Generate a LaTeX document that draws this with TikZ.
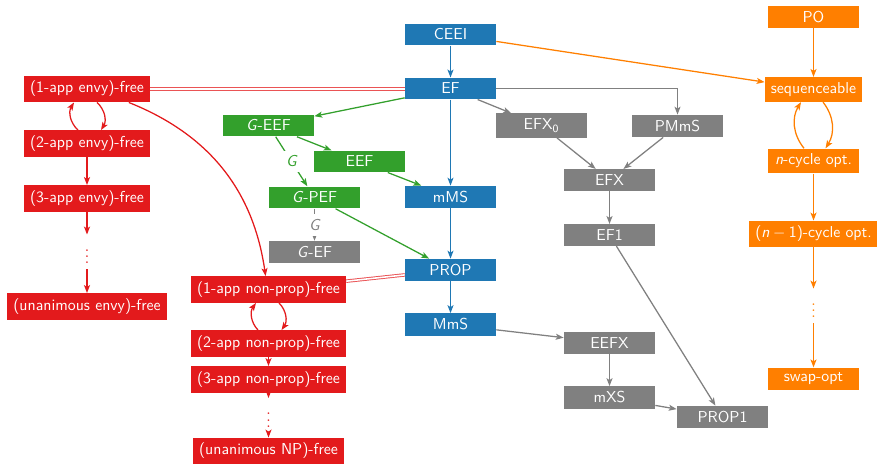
\documentclass[tikz,border=0pt]{standalone}
\usetikzlibrary{arrows.meta}
\definecolor{cblue}{HTML}{1F78B4}
\definecolor{cgreen}{HTML}{33A02C}
\definecolor{cred}{HTML}{E31A1C}
\definecolor{corange}{HTML}{FF7F00}
\definecolor{cgray}{HTML}{808080}
\begin{document}
\begin{tikzpicture}[x=0.6329pt, y=-0.6329pt,
  box/.style={rectangle, minimum width=57.6pt, inner xsep=3.8pt, inner ysep=3.33pt,
              text=white, font=\sffamily},
  bluebox/.style={box, fill=cblue},
  greenbox/.style={box, fill=cgreen},
  redbox/.style={box, fill=cred},
  orangebox/.style={box, fill=corange},
  graybox/.style={box, fill=cgray},
  dotsnode/.style={inner sep=3.33pt},
  arr/.style={thick, -{Stealth[length=5pt, width=3.8pt, inset=1.2pt]}},
  dbl/.style={draw=cred!75, line width=0.6pt, double=white, double distance=1pt},
  elabel/.style={fill=white, inner sep=3.33pt, font=\sffamily\slshape}]
\useasboundingbox (0,0) rectangle (877,463);

% central (blue) chain
\node[bluebox] (CEEI) at (450.5,34.5) {CEEI};
\node[bluebox] (EF)   at (450.5,88.5) {EF};
\node[bluebox] (mMS)  at (450.5,197)  {mMS};
\node[bluebox] (PROP) at (450.5,270)  {PROP};
\node[bluebox] (MmS)  at (450.5,324.5) {MmS};

% group fairness (green)
\node[greenbox] (GEEF) at (268.5,125.5) {\textsl{G}-EEF};
\node[greenbox] (EEF)  at (359.5,161.5) {EEF};
\node[greenbox] (GPEF) at (314.5,197.5) {\textsl{G}-PEF};
\node[graybox]  (GEF)  at (314.5,252)   {\textsl{G}-EF};

% relaxations (gray)
\node[graybox] (EFX0)  at (541.5,125.5) {EFX\textsubscript{0}};
\node[graybox] (PMmS)  at (677.5,126)   {PMmS};
\node[graybox] (EFX)   at (609.5,180)   {EFX};
\node[graybox] (EF1)   at (609.5,235)   {EF1};
\node[graybox] (EEFX)  at (609.5,343)   {EEFX};
\node[graybox] (mXS)   at (609.5,397.5) {mXS};
\node[graybox] (PROP1) at (722.5,417)   {PROP1};

% envy hierarchy (red, left)
\node[redbox] (r1) at (87,89)    {(1-app envy)-free};
\node[redbox] (r2) at (87,143.5) {(2-app envy)-free};
\node[redbox] (r3) at (87,198.5) {(3-app envy)-free};
\node[dotsnode, text=cred] (rdots) at (87,252) {$\vdots$};
\node[redbox] (r4) at (87,306.5) {(unanimous envy)-free};

% non-prop hierarchy (red, middle)
\node[redbox] (n1) at (268.5,289.5) {(1-app non-prop)-free};
\node[redbox] (n2) at (268.5,343.5) {(2-app non-prop)-free};
\node[redbox] (n3) at (268.5,379.5) {(3-app non-prop)-free};
\node[dotsnode, text=cred] (ndots) at (268.5,415.5) {$\vdots$};
\node[redbox] (n4) at (268.5,451) {(unanimous NP)-free};

% efficiency chain (orange)
\node[orangebox] (PO)   at (813.5,17)   {PO};
\node[orangebox] (seq)  at (813.5,89.5) {sequenceable};
\node[orangebox] (ncyc) at (813.5,161)  {\textsl{n}-cycle opt.};
\node[orangebox] (mcyc) at (813.5,234)  {(\textsl{n}${}-{}$1)-cycle opt.};
\node[dotsnode, text=corange] (odots) at (813.5,306) {$\vdots$};
\node[orangebox] (swap) at (813.5,379)  {swap-opt};

% blue implications
\draw[arr, cblue] (CEEI) -- (EF);
\draw[arr, cblue] (EF) -- (mMS);
\draw[arr, cblue] (mMS) -- (PROP);
\draw[arr, cblue] (PROP) -- (MmS);

% green implications
\draw[arr, cgreen] (EF) -- (GEEF);
\draw[arr, cgreen] (GEEF) -- (EEF);
\draw[arr, cgreen] (GEEF) -- node[elabel, text=cgreen] {G} (GPEF);
\draw[arr, cgreen] (EEF) -- (mMS);
\draw[arr, cgreen] (GPEF) -- (PROP);
\draw[arr, cgray] (GPEF) -- node[elabel, text=cgray] {G} (GEF);

% gray implications
\draw[arr, cgray] (EF) -- (EFX0);
\draw[arr, cgray] (EF) -| (PMmS);
\draw[arr, cgray] (EFX0) -- (EFX);
\draw[arr, cgray] (PMmS) -- (EFX);
\draw[arr, cgray] (EFX) -- (EF1);
\draw[arr, cgray] (EF1) -- (PROP1);
\draw[arr, cgray] (MmS) -- (EEFX);
\draw[arr, cgray] (EEFX) -- (mXS);
\draw[arr, cgray] (mXS) -- (PROP1);

% equivalences
\draw[dbl] (r1.east) -- (r1.east -| EF.west);
\draw[dbl] (n1) -- (PROP);

% red implications
\draw[arr, cred] ([shift={(-9,0)}]r2.north) to[bend left=40] ([shift={(-13,0)}]r1.south);
\draw[arr, cred] ([shift={(10,0)}]r1.south) to[bend left=40] ([shift={(14,0)}]r2.north);
\draw[arr, cred] (r2) -- (r3);
\draw[arr, cred] (r3) -- (rdots);
\draw[arr, cred] (rdots) -- (r4);
\draw[arr, cred] (r1) to[bend left=30] (n1);
\draw[arr, cred] ([shift={(-10.5,0)}]n2.north) to[bend left=40] ([shift={(-12.5,0)}]n1.south);
\draw[arr, cred] ([shift={(10.5,0)}]n1.south) to[bend left=40] ([shift={(13,0)}]n2.north);
\draw[arr, cred] (n2) -- (n3);
\draw[arr, cred] (n3) -- (ndots);
\draw[arr, cred] (ndots) -- (n4);

% orange implications
\draw[arr, corange] (CEEI) -- (seq);
\draw[arr, corange] (PO) -- (seq);
\draw[arr, corange] ([shift={(-9.5,0)}]ncyc.north) to[bend left=35] ([shift={(-12.5,0)}]seq.south);
\draw[arr, corange] ([shift={(9.5,0)}]seq.south) to[bend left=35] ([shift={(12,0)}]ncyc.north);
\draw[arr, corange] (ncyc) -- (mcyc);
\draw[arr, corange] (mcyc) -- (odots);
\draw[arr, corange] (odots) -- (swap);
\end{tikzpicture}
\end{document}
